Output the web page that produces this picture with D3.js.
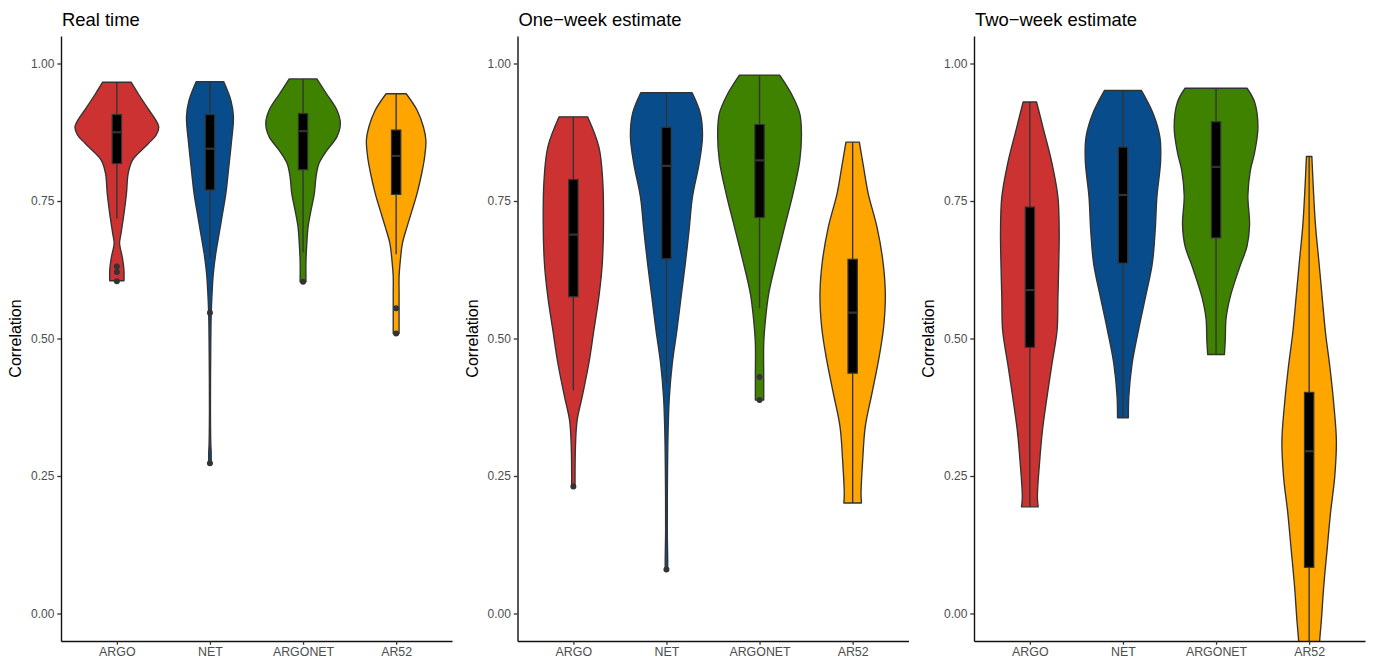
<!DOCTYPE html>
<html><head><meta charset="utf-8">
<script src="https://cdn.jsdelivr.net/npm/d3@7"></script>
<style>
html,body{margin:0;padding:0;background:#fff;}
svg{display:block;font-family:"Liberation Sans",Arial,Helvetica,sans-serif;}
</style></head>
<body>
<svg id="chart" width="1376" height="664"></svg>
<script>
// ---------- data ----------
const categories = ["ARGO", "NET", "ARGONET", "AR52"];
const panelTitles = ["Real time", "One\u2212week estimate", "Two\u2212week estimate"];
const yTicks = [0, 0.25, 0.5, 0.75, 1];
const fillColors = ["#CC3232", "#084C8B", "#3F8200", "#FFA500"];

// violin profiles: [correlation value, relative density]
const realTimeARGO = [[0.966,0.34],[0.945,0.51],[0.915,0.77],[0.897,0.93],[0.885,1.0],[0.870,0.94],[0.855,0.76],[0.837,0.52],[0.824,0.37],[0.80,0.27],[0.764,0.23],[0.727,0.17],[0.691,0.10],[0.673,0.065],[0.648,0.13],[0.624,0.17],[0.605,0.17]];
const realTimeNET = [[0.967,0.33],[0.933,0.50],[0.903,0.56],[0.855,0.51],[0.812,0.45],[0.764,0.38],[0.727,0.30],[0.691,0.22],[0.655,0.14],[0.618,0.08],[0.582,0.05],[0.545,0.03],[0.46,0.017],[0.37,0.012],[0.31,0.02],[0.29,0.03],[0.271,0.026]];
const realTimeARGONET = [[0.972,0.33],[0.945,0.56],[0.915,0.81],[0.891,0.89],[0.867,0.81],[0.842,0.57],[0.818,0.38],[0.794,0.31],[0.764,0.27],[0.733,0.19],[0.703,0.12],[0.673,0.09],[0.642,0.07],[0.603,0.07]];
const realTimeAR52 = [[0.945,0.24],[0.915,0.50],[0.885,0.65],[0.861,0.71],[0.830,0.68],[0.80,0.61],[0.764,0.50],[0.733,0.38],[0.703,0.26],[0.673,0.15],[0.642,0.10],[0.612,0.07],[0.582,0.07],[0.533,0.07],[0.509,0.07]];

const oneWeekARGO = [[0.903,0.34],[0.848,0.61],[0.788,0.70],[0.715,0.72],[0.636,0.69],[0.576,0.61],[0.515,0.49],[0.455,0.37],[0.394,0.21],[0.351,0.09],[0.303,0.05],[0.242,0.04],[0.231,0.04]];
const oneWeekNET = [[0.947,0.61],[0.909,0.81],[0.867,0.86],[0.818,0.78],[0.757,0.62],[0.697,0.54],[0.636,0.45],[0.576,0.35],[0.515,0.25],[0.455,0.14],[0.394,0.07],[0.333,0.04],[0.242,0.024],[0.151,0.02],[0.097,0.03],[0.0805,0.03]];
const oneWeekARGONET = [[0.979,0.48],[0.945,0.76],[0.909,0.96],[0.873,1.0],[0.824,0.96],[0.764,0.80],[0.703,0.60],[0.642,0.40],[0.582,0.22],[0.533,0.14],[0.491,0.10],[0.430,0.10],[0.388,0.10]];
const oneWeekAR52 = [[0.857,0.16],[0.812,0.26],[0.764,0.37],[0.703,0.58],[0.642,0.72],[0.582,0.78],[0.521,0.74],[0.461,0.62],[0.40,0.46],[0.339,0.30],[0.279,0.24],[0.218,0.20],[0.201,0.21]];

const twoWeekARGO = [[0.930,0.16],[0.879,0.33],[0.818,0.53],[0.757,0.67],[0.697,0.70],[0.636,0.69],[0.576,0.67],[0.515,0.65],[0.455,0.53],[0.394,0.41],[0.333,0.30],[0.273,0.23],[0.212,0.18],[0.194,0.20]];
const twoWeekNET = [[0.951,0.44],[0.909,0.72],[0.867,0.88],[0.824,0.90],[0.757,0.81],[0.697,0.77],[0.636,0.70],[0.576,0.54],[0.515,0.37],[0.455,0.22],[0.394,0.14],[0.356,0.13]];
const twoWeekARGONET = [[0.955,0.74],[0.930,0.92],[0.884,1.0],[0.838,0.92],[0.806,0.82],[0.760,0.76],[0.707,0.80],[0.668,0.74],[0.629,0.56],[0.576,0.34],[0.537,0.24],[0.497,0.22],[0.471,0.20]];
const twoWeekAR52 = [[0.831,0.065],[0.773,0.10],[0.707,0.15],[0.642,0.23],[0.576,0.31],[0.511,0.39],[0.445,0.50],[0.379,0.59],[0.314,0.65],[0.248,0.61],[0.183,0.51],[0.117,0.43],[0.051,0.35],[-0.014,0.29],[-0.05,0.25],[-0.08,0.22]];

// box stats: [lower whisker, q1, median, q3, upper whisker]
const realTimeBoxes = [[0.718,0.818,0.875,0.907,0.966],[0.645,0.770,0.845,0.907,0.967],[0.657,0.807,0.877,0.909,0.972],[0.653,0.762,0.832,0.879,0.945]];
const oneWeekBoxes = [[0.406,0.576,0.689,0.789,0.903],[0.418,0.645,0.814,0.884,0.947],[0.555,0.720,0.824,0.889,0.979],[0.201,0.437,0.547,0.644,0.857]];
const twoWeekBoxes = [[0.194,0.484,0.588,0.739,0.930],[0.356,0.637,0.761,0.848,0.951],[0.471,0.683,0.812,0.894,0.955],[-0.08,0.084,0.295,0.402,0.831]];

// outliers
const realTimeOutliers = [[0.631,0.621,0.604],[0.547,0.273],[0.603],[0.555,0.509]];
const oneWeekOutliers = [[0.231],[0.080],[0.430,0.388],[]];
const twoWeekOutliers = [[],[],[],[]];

const panels = [
  {title: panelTitles[0], violins: [realTimeARGO, realTimeNET, realTimeARGONET, realTimeAR52], boxes: realTimeBoxes, outliers: realTimeOutliers},
  {title: panelTitles[1], violins: [oneWeekARGO, oneWeekNET, oneWeekARGONET, oneWeekAR52], boxes: oneWeekBoxes, outliers: oneWeekOutliers},
  {title: panelTitles[2], violins: [twoWeekARGO, twoWeekNET, twoWeekARGONET, twoWeekAR52], boxes: twoWeekBoxes, outliers: twoWeekOutliers}
];

// ---------- layout ----------
const svg = d3.select("#chart");
const panelLeft = [61, 517.5, 974];
const panelW = 391;
const plotTop = 36, plotBottom = 641;

const y = d3.scaleLinear().domain([-0.05, 1.05]).range([plotBottom, plotTop]);
const x = d3.scalePoint().domain(categories).range([0, panelW]).padding(0.6);
const step = x.step();
const w = d3.scaleLinear().domain([0, 1]).range([0, step * 0.45]);
const boxHalf = step * 0.05;

const defs = svg.append("defs");

panels.forEach((p, pi) => {
  const g = svg.append("g").attr("transform", `translate(${panelLeft[pi]},0)`);
  defs.append("clipPath").attr("id", "clip" + pi)
    .append("rect").attr("x", 0).attr("y", plotTop).attr("width", panelW).attr("height", plotBottom - plotTop);

  const plot = g.append("g").attr("clip-path", `url(#clip${pi})`);

  categories.forEach((c, ci) => {
    const cx = x(c);
    const prof = p.violins[ci];
    const area = d3.area()
      .y(d => y(d[0]))
      .x0(d => cx - w(d[1]))
      .x1(d => cx + w(d[1]))
      .curve(d3.curveCatmullRom.alpha(0.5));
    plot.append("path")
      .attr("d", area(prof))
      .attr("fill", fillColors[ci])
      .attr("stroke", "#333333")
      .attr("stroke-width", 1.35)
      .attr("stroke-linejoin", "round");

    const b = p.boxes[ci];
    // whiskers
    plot.append("line").attr("x1", cx).attr("x2", cx).attr("y1", y(b[4])).attr("y2", y(b[3]))
      .attr("stroke", "#333333").attr("stroke-width", 1.35);
    plot.append("line").attr("x1", cx).attr("x2", cx).attr("y1", y(b[1])).attr("y2", y(b[0]))
      .attr("stroke", "#333333").attr("stroke-width", 1.35);
    // box
    plot.append("rect")
      .attr("x", cx - boxHalf).attr("width", boxHalf * 2)
      .attr("y", y(b[3])).attr("height", y(b[1]) - y(b[3]))
      .attr("fill", "#000000").attr("stroke", "#333333").attr("stroke-width", 1.2);
    // median
    plot.append("line").attr("x1", cx - boxHalf).attr("x2", cx + boxHalf)
      .attr("y1", y(b[2])).attr("y2", y(b[2]))
      .attr("stroke", "#333333").attr("stroke-width", 2.2);
    // outliers
    p.outliers[ci].forEach(o => {
      plot.append("circle").attr("cx", cx).attr("cy", y(o)).attr("r", 3).attr("fill", "#333333");
    });
  });

  // y axis
  const ya = g.append("g").call(
    d3.axisLeft(y).tickValues(yTicks).tickFormat(d3.format(".2f")).tickSize(3.7).tickPadding(2.9).tickSizeOuter(0)
  );
  ya.select(".domain").attr("stroke", "#111111").attr("stroke-width", 1.4);
  ya.selectAll(".tick line").attr("stroke", "#333333").attr("stroke-width", 1.3);
  ya.selectAll(".tick text").attr("fill", "#4d4d4d").attr("font-size", "12px")
    .attr("font-family", "Liberation Sans, Arial, sans-serif");

  // x axis
  const xa = g.append("g").attr("transform", `translate(0,${plotBottom})`).call(
    d3.axisBottom(x).tickSize(3.7).tickPadding(2.9).tickSizeOuter(0)
  );
  xa.select(".domain").attr("stroke", "#111111").attr("stroke-width", 1.4);
  xa.selectAll(".tick line").attr("stroke", "#333333").attr("stroke-width", 1.3);
  xa.selectAll(".tick text").attr("fill", "#4d4d4d").attr("font-size", "12.4px")
    .attr("font-family", "Liberation Sans, Arial, sans-serif");

  // title
  g.append("text").attr("x", 1).attr("y", 26)
    .attr("font-size", "18.4px").attr("fill", "#000").text(p.title);

  // y axis title
  g.append("text")
    .attr("transform", `translate(-40,${(plotTop + plotBottom) / 2}) rotate(-90)`)
    .attr("text-anchor", "middle")
    .attr("font-size", "16px").attr("fill", "#000").text("Correlation");
});
</script>
</body></html>
